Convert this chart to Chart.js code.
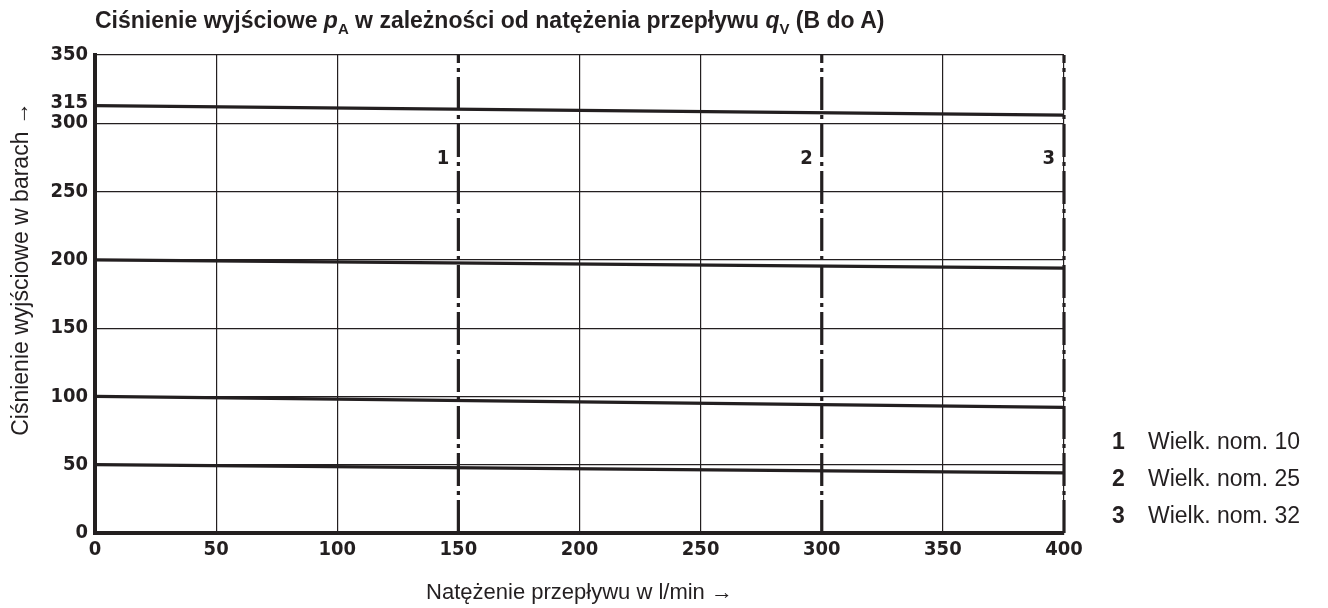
<!DOCTYPE html>
<html>
<head>
<meta charset="utf-8">
<script src="https://cdn.jsdelivr.net/npm/chart.js@4"></script>
<style>
  body { margin: 0; background: #fff; }
  #wrap { position: relative; width: 1328px; height: 608px; }
  #title {
    position: absolute; left: 95px; top: 7px;
    font: bold 23px "Liberation Sans", Arial, sans-serif; color: #231f20;
    white-space: nowrap;
  }
  #title sub { font-size: 15px; vertical-align: -6px; line-height: 0; }
  .leg {
    position: absolute; left: 1112px;
    font: 23px "Liberation Sans", Arial, sans-serif; color: #231f20;
    white-space: nowrap; line-height: 26px;
  }
  .leg b { display: inline-block; width: 36px; }
</style>
</head>
<body>
<div id="wrap">
  <canvas id="chart"></canvas>
  <div id="title">Ciśnienie wyjściowe <i>p</i><sub>A</sub> w zależności od natężenia przepływu <i>q</i><sub>V</sub> (B do A)</div>
  <div class="leg" style="top:428px"><b>1</b>Wielk. nom. 10</div>
  <div class="leg" style="top:465px"><b>2</b>Wielk. nom. 25</div>
  <div class="leg" style="top:502px"><b>3</b>Wielk. nom. 32</div>
</div>
<script>
// flow rate (l/min) where each curve was read
var flow = [0, 400];

// output pressure curves (bar)
var curve315 = [313, 306];
var curve200 = [200, 194];
var curve100 = [100, 92];
var curve50 = [50, 44];

// nominal size limits (l/min) and their labels
var sizeLimits = [150, 300, 400];
var sizeLabels = ['1', '2', '3'];

var xTicks = [0, 50, 100, 150, 200, 250, 300, 350, 400];
var yTicks = [0, 50, 100, 150, 200, 250, 300, 315, 350];

var ink = '#231f20';
var tickFont = { family: '"DejaVu Sans Condensed", "DejaVu Sans", sans-serif', weight: 'bold', size: 20 };

function curve(values) {
    return {
        data: flow.map(function (x, i) { return { x: x, y: values[i] }; }),
        borderColor: ink,
        borderWidth: 3.2,
        pointRadius: 0,
        tension: 0
    };
}

function limitLine(x) {
    return {
        data: [{ x: x, y: 0 }, { x: x, y: 350 }],
        borderColor: ink,
        borderWidth: 3.2,
        borderDash: [33, 5, 4, 5],
        borderCapStyle: 'butt',
        pointRadius: 0,
        clip: false
    };
}

var datasets = [curve(curve315), curve(curve200), curve(curve100), curve(curve50)];
sizeLimits.forEach(function (x) { datasets.push(limitLine(x)); });

var extras = {
    id: 'extras',
    afterDraw: function (chart) {
        var ctx = chart.ctx;
        var xs = chart.scales.x, ys = chart.scales.y;
        ctx.save();
        ctx.fillStyle = ink;
        ctx.font = 'bold 20px "DejaVu Sans Condensed", "DejaVu Sans", sans-serif';
        ctx.textAlign = 'right';
        ctx.textBaseline = 'middle';
        sizeLimits.forEach(function (x, i) {
            ctx.fillText(sizeLabels[i], xs.getPixelForValue(x) - 9, ys.getPixelForValue(274));
        });
        ctx.translate(22, 269);
        ctx.rotate(-Math.PI / 2);
        ctx.textAlign = 'center';
        ctx.font = '23px "Liberation Sans", Arial, sans-serif';
        ctx.fillText('Ciśnienie wyjściowe w barach \u2192', 0, 0);
        ctx.restore();
    }
};

new Chart(document.getElementById('chart'), {
    type: 'line',
    data: { datasets: datasets },
    options: {
        responsive: true,
        maintainAspectRatio: false,
        animation: false,
        layout: { padding: { top: 55, right: 264, left: 0, bottom: 0 } },
        plugins: { legend: { display: false }, tooltip: { enabled: false } },
        scales: {
            x: {
                type: 'linear',
                min: 0, max: 400,
                afterBuildTicks: function (s) { s.ticks = xTicks.map(function (v) { return { value: v }; }); },
                afterFit: function (s) { s.height = 75; },
                ticks: { color: ink, font: tickFont, padding: 5, maxRotation: 0 },
                grid: {
                    color: function (c) { return (c.tick && (c.tick.value === 150 || c.tick.value === 300)) ? 'rgba(0,0,0,0)' : ink; },
                    lineWidth: 1.2,
                    drawTicks: false
                },
                border: { color: ink, width: 4 },
                title: {
                    display: true,
                    text: 'Natężenie przepływu w l/min \u2192',
                    color: ink,
                    font: { family: '"Liberation Sans", Arial, sans-serif', size: 22 },
                    padding: { top: 0, bottom: 2 }
                }
            },
            y: {
                type: 'linear',
                min: 0, max: 350,
                afterBuildTicks: function (s) { s.ticks = yTicks.map(function (v) { return { value: v }; }); },
                afterFit: function (s) { s.width = 95; },
                ticks: { color: ink, font: tickFont, padding: 7 },
                grid: {
                    color: function (c) { return (c.tick && c.tick.value === 315) ? 'rgba(0,0,0,0)' : ink; },
                    lineWidth: 1.2,
                    drawTicks: false
                },
                border: { color: ink, width: 4 }
            }
        }
    },
    plugins: [extras]
});
</script>
</body>
</html>
